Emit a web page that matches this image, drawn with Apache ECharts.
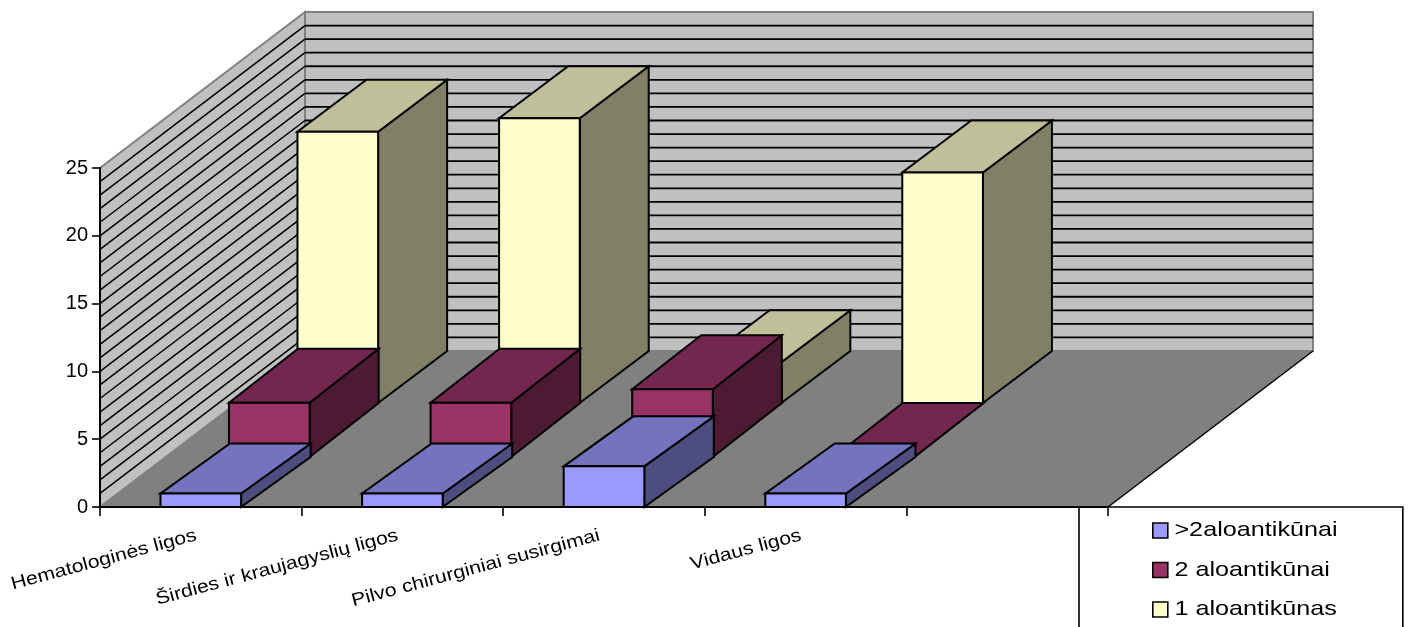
<!DOCTYPE html>
<html>
<head>
<meta charset="utf-8">
<style>html,body{margin:0;padding:0;background:#fff;overflow:hidden}#chart{width:1409px;height:627px}</style>
<script src="https://cdn.jsdelivr.net/npm/echarts@6/dist/echarts.min.js"></script>
</head>
<body>
<div id="chart"></div>
<script>
// Category labels; the fifth band stays empty.
const categories = ['Hematologinės ligos', 'Širdies ir kraujagyslių ligos', 'Pilvo chirurginiai susirgimai', 'Vidaus ligos', ''];
const seriesNames = ['>2aloantikūnai', '2 aloantikūnai', '1 aloantikūnas'];
const moreThanTwo = [1, 1, 3, 1];
const twoAllo = [4, 4, 5, 0];
const oneAllo = [20, 21, 3, 17];
const wallGridValues = [1, 2, 3, 4, 5, 6, 7, 8, 9, 10, 11, 12, 13, 14, 15, 16, 17, 18, 19, 20, 21, 22, 23, 24];

// Oblique projection: full chart depth, and where each row of bars sits in it.
const DEPTH_X = 205;
const DEPTH_Y = -156;
const rowShift = [[0, 0], [68.5, -50], [137, -104]];
const rowDepth = [[69.5, -50], [69, -54], [69, -52]];
const LABEL_WIDEN = 1.18;
const LEGEND_WIDEN = 1.2;

const palettes = [
  { front: '#9999FF', top: '#7373BF', side: '#4D4D80' },
  { front: '#993366', top: '#732650', side: '#4D1A33' },
  { front: '#FFFFCC', top: '#BFBF99', side: '#808066' }
];

function renderWalls(params, api) {
  const band = api.size([1, 0])[0];
  const [cx, y0] = api.coord([0, 0]);
  const x0 = cx - band / 2;
  const x1 = x0 + band * categories.length;
  const yTop = api.coord([0, 25])[1];
  const poly = (points, fill, stroke, lineWidth) => ({
    type: 'polygon', silent: true, shape: { points },
    style: { fill, stroke: stroke || null, lineWidth: lineWidth || 0 }
  });
  const children = [
    poly([[x0 + DEPTH_X, y0 + DEPTH_Y], [x1 + DEPTH_X, y0 + DEPTH_Y], [x1 + DEPTH_X, yTop + DEPTH_Y], [x0 + DEPTH_X, yTop + DEPTH_Y]], '#C0C0C0', '#808080', 2),
    poly([[x0, y0], [x0 + DEPTH_X, y0 + DEPTH_Y], [x0 + DEPTH_X, yTop + DEPTH_Y], [x0, yTop]], '#C0C0C0', '#808080', 2)
  ];
  wallGridValues.forEach(v => {
    const y = api.coord([0, v])[1];
    children.push(
      { type: 'line', silent: true, shape: { x1: x0 + DEPTH_X, y1: y + DEPTH_Y, x2: x1 + DEPTH_X, y2: y + DEPTH_Y }, style: { stroke: '#000', lineWidth: 1.8 } },
      { type: 'line', silent: true, shape: { x1: x0, y1: y, x2: x0 + DEPTH_X, y2: y + DEPTH_Y }, style: { stroke: '#000', lineWidth: 1.5 } }
    );
  });
  children.push(poly([[x0, y0], [x1, y0], [x1 + DEPTH_X, y0 + DEPTH_Y], [x0 + DEPTH_X, y0 + DEPTH_Y]], '#808080'));
  children.push({ type: 'line', silent: true, shape: { x1, y1: y0, x2: x1 + DEPTH_X, y2: y0 + DEPTH_Y }, style: { stroke: '#000', lineWidth: 1.5 } });
  return { type: 'group', children };
}

function makeBarRenderer(row) {
  const [sx, sy] = rowShift[row];
  const [dx, dy] = rowDepth[row];
  const colors = palettes[row];
  return function (params, api) {
    const band = api.size([1, 0])[0];
    const base = api.coord([api.value(0), 0]);
    const top = api.coord([api.value(0), api.value(1)]);
    const w = band * 0.4;
    const l = base[0] - band * 0.2 + sx;
    const r = l + w;
    const yb = base[1] + sy;
    const yt = top[1] + sy;
    const poly = (points, fill) => ({
      type: 'polygon', silent: true, shape: { points },
      style: { fill, stroke: '#000', lineWidth: 2, lineJoin: 'miter' }
    });
    return {
      type: 'group',
      children: [
        poly([[r, yb], [r + dx, yb + dy], [r + dx, yt + dy], [r, yt]], colors.side),
        poly([[l, yt], [r, yt], [r + dx, yt + dy], [l + dx, yt + dy]], colors.top),
        poly([[l, yb], [r, yb], [r, yt], [l, yt]], colors.front)
      ]
    };
  };
}

const rows = [moreThanTwo, twoAllo, oneAllo];

const option = {
  animation: false,
  textStyle: { fontFamily: '"Liberation Sans", Arial, sans-serif', color: '#000' },
  grid: { left: 100, right: 301, top: 168, bottom: 120, containLabel: false },
  xAxis: {
    type: 'category',
    data: categories,
    z: 3,
    axisLine: { show: true, lineStyle: { color: '#000', width: 2 } },
    axisTick: { show: true, length: 9, lineStyle: { color: '#000', width: 1.6 } },
    axisLabel: { interval: 0, rotate: 15, color: '#000', fontSize: 18, margin: 27, padding: [0, 4, 0, 0], fontFamily: '"Liberation Sans", Arial, sans-serif' }
  },
  yAxis: {
    type: 'value', min: 0, max: 25, interval: 5,
    z: 3,
    splitLine: { show: false },
    axisLine: { show: true, lineStyle: { color: '#000', width: 2 } },
    axisTick: { show: true, length: 8, lineStyle: { color: '#000', width: 1.6 } },
    axisLabel: { color: '#000', fontSize: 20, margin: 12, fontFamily: '"Liberation Sans", Arial, sans-serif' }
  },
  legend: {
    orient: 'vertical',
    left: 1079,
    top: 507,
    height: 300,
    z: 1,
    padding: [13, 96, 40, 73],
    itemWidth: 15,
    itemHeight: 15,
    itemGap: 18.5,
    backgroundColor: '#fff',
    borderColor: '#000',
    borderWidth: 1.6,
    borderRadius: 0,
    icon: 'rect',
    selectedMode: false,
    textStyle: { fontSize: 21, color: '#000', padding: [0, 0, 0, -2], fontFamily: '"Liberation Sans", Arial, sans-serif' },
    data: seriesNames.map((name, i) => ({
      name,
      itemStyle: { color: palettes[i].front, borderColor: '#000', borderWidth: 1.6 }
    }))
  },
  series: [
    {
      type: 'custom', name: 'walls', z: 0, silent: true,
      renderItem: renderWalls,
      data: [[0, 0]],
      encode: { x: 0, y: 1 }
    }
  ].concat(rows.map((values, i) => ({
    type: 'custom',
    name: seriesNames[i],
    z: 7 - i,
    itemStyle: { color: palettes[i].front },
    renderItem: makeBarRenderer(i),
    encode: { x: 0, y: 1 },
    data: values.map((v, c) => [c, v])
  })))
};

const chart = echarts.init(document.getElementById('chart'));
chart.setOption(option);

// Category and legend labels are set in an extended width.
const zr = chart.getZr();
const widen = el => {
  if (el.type === 'text' && el.style) {
    if (categories.includes(el.style.text)) el.scaleX = LABEL_WIDEN;
    if (seriesNames.includes(el.style.text)) el.scaleX = LEGEND_WIDEN;
    el.markRedraw();
  }
  if (el.children) el.children().forEach(widen);
};
zr.storage.getRoots().forEach(widen);
zr.refreshImmediately();
</script>
</body>
</html>
